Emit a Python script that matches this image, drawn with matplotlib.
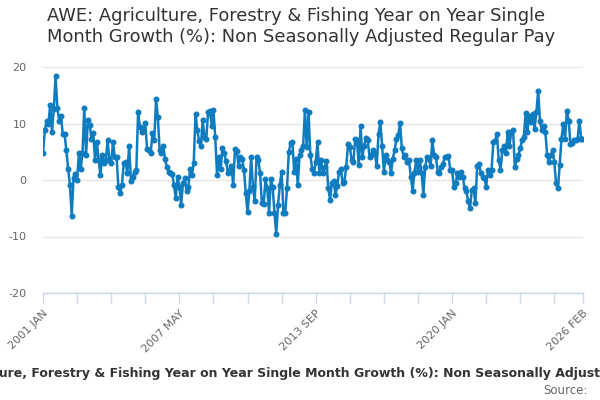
import matplotlib
matplotlib.use("Agg")
import matplotlib.pyplot as plt

# Monthly series, 2001 JAN .. 2026 FEB
start_year = 2001
start_month = 1
values = [
    4.7, 8.8, 10.4, 10.0, 13.3, 8.5, 12.6, 18.4, 12.7, 10.5,
    11.4, 8.1, 8.1, 5.3, 2.0, -0.9, -6.3, 0.3, 1.0, 0.0,
    4.8, 2.0, 4.7, 12.7, 4.4, 10.6, 9.8, 7.3, 8.3, 3.5,
    6.7, 3.5, 0.9, 4.4, 3.0, 3.5, 7.0, 3.5, 3.0, 6.7,
    4.0, 4.1, -1.2, -2.3, -0.8, 3.0, 3.2, 1.2, 6.1, -0.1,
    0.5, 1.5, 1.8, 12.0, 9.4, 8.5, 8.9, 10.1, 5.4, 5.3,
    4.7, 8.3, 7.1, 14.3, 11.1, 5.3, 4.7, 6.1, 3.8, 2.3,
    1.5, 1.2, 1.1, -0.9, -3.2, 0.6, -1.2, -4.4, -0.6, 0.3,
    -2.0, -1.2, 1.9, 0.9, 3.0, 11.6, 8.9, 6.9, 6.0, 10.7,
    7.6, 7.3, 12.0, 12.3, 9.6, 12.4, 7.6, 0.9, 4.1, 1.9,
    5.6, 4.8, 3.4, 1.3, 1.8, 2.5, -0.8, 5.4, 5.1, 2.5,
    4.1, 3.8, 1.8, -2.3, -5.7, -2.0, 4.1, -1.2, -3.8, 4.0,
    3.6, 1.2, -4.1, -4.2, 0.1, -1.5, -5.8, 0.1, -1.2, -5.8,
    -9.5, -4.4, -0.9, 1.5, -5.8, -5.8, -1.5, 5.0, 6.5, 6.7,
    1.5, 3.8, -0.9, 4.4, 5.3, 6.1, 12.4, 5.8, 12.0, 4.5,
    2.0, 1.2, 3.2, 6.7, 1.3, 3.5, 1.2, 2.3, 3.4, -1.5,
    -3.5, -0.6, -0.2, -2.6, -1.1, 1.5, 2.0, -0.6, -0.3, 2.3,
    6.3, 5.8, 3.6, 3.2, 7.3, 7.0, 2.6, 9.5, 4.1, 6.0,
    7.5, 7.0, 4.1, 4.4, 5.3, 4.7, 2.5, 8.2, 10.2, 6.1,
    1.5, 4.4, 3.5, 3.2, 1.3, 3.8, 5.3, 7.3, 7.9, 10.1,
    5.6, 4.1, 4.4, 3.2, 3.5, 0.6, -1.9, 1.2, 3.5, 1.5,
    3.5, 1.3, -2.6, 2.3, 4.1, 3.8, 2.5, 7.0, 4.4, 4.1,
    1.5, 1.2, 2.3, 2.9, 4.1, 4.1, 4.2, 1.8, 1.8, -1.2,
    -0.6, 1.2, 0.6, 1.5, 0.6, -1.5, -2.0, -3.8, -5.0, -1.8,
    -1.5, -4.1, 2.5, 2.9, 1.2, 0.6, 0.3, -1.2, 1.8, 0.9,
    1.8, 6.7, 6.9, 8.2, 3.5, 1.8, 5.3, 6.1, 4.7, 8.5,
    6.0, 8.5, 8.8, 2.3, 3.8, 4.4, 5.6, 7.0, 7.6, 11.8,
    8.5, 11.4, 10.2, 11.7, 9.1, 12.0, 15.8, 10.5, 8.8, 9.5,
    8.5, 4.4, 3.2, 4.4, 5.3, 3.2, -0.6, -1.5, 2.6, 7.3,
    9.9, 7.3, 12.3, 10.5, 6.4, 6.6, 7.0, 7.0, 7.3, 10.5,
    7.3, 7.3,
]
month_names = ["JAN", "FEB", "MAR", "APR", "MAY", "JUN",
               "JUL", "AUG", "SEP", "OCT", "NOV", "DEC"]
y_ticks = [-20, -10, 0, 10, 20]
title = ("AWE: Agriculture, Forestry & Fishing Year on Year Single\n"
         "Month Growth (%): Non Seasonally Adjusted Regular Pay")
caption = ("AWE: Agriculture, Forestry & Fishing Year on Year Single Month "
           "Growth (%): Non Seasonally Adjusted Regular Pay")

n = len(values)
x = list(range(n))
labels = []
for i in x:
    m = start_month - 1 + i
    labels.append(f"{start_year + m // 12} {month_names[m % 12]}")

plt.rcParams['font.family'] = ['DejaVu Sans']
fig = plt.figure(figsize=(6, 4), dpi=100)
ax = fig.add_axes([0.0717, 0.2675, 0.9, 0.565])

line_color = '#0f7cc0'
ax.plot(x, values, color=line_color, lw=1.8, marker='o', ms=3.3,
        mec=line_color, mfc=line_color, zorder=3)

ax.set_xlim(0, n - 1)
ax.set_ylim(-20, 20)
ax.set_yticks(y_ticks)
ax.set_yticklabels([str(v) for v in y_ticks])
ax.grid(axis='y', color='#e6e6e6', lw=1)
ax.set_axisbelow(True)

step = 19
major = [i for i in range(0, n, step * 4)] + [n - 1]
minor = [i for i in range(0, n, step) if i not in major]
ax.set_xticks(major)
ax.set_xticklabels([labels[i] for i in major], rotation=45, ha='right',
                   rotation_mode='anchor')
ax.set_xticks(minor, minor=True)

for s in ['top', 'right', 'left']:
    ax.spines[s].set_visible(False)
ax.spines['bottom'].set_color('#ccd6eb')
ax.spines['bottom'].set_linewidth(1)
ax.tick_params(axis='x', which='both', length=7, width=1, color='#ccd6eb',
               labelcolor='#666666', labelsize=8, pad=4)
ax.tick_params(axis='y', length=0, labelcolor='#666666', labelsize=8, pad=12)

fig.text(47 / 600, 1 - 7 / 400, title, ha='left', va='top', fontsize=12.9,
         color='#333333', linespacing=1.2)
fig.text(0.5 + 4 / 600, 1 - 373 / 400, caption, ha='center', va='center',
         fontsize=9.0, fontweight='bold', color='#333333')
fig.text(588 / 600, 1 - 391 / 400, "Source:", ha='right', va='center',
         fontsize=8.5, color='#666666')

fig.savefig('out.png', dpi=100)
